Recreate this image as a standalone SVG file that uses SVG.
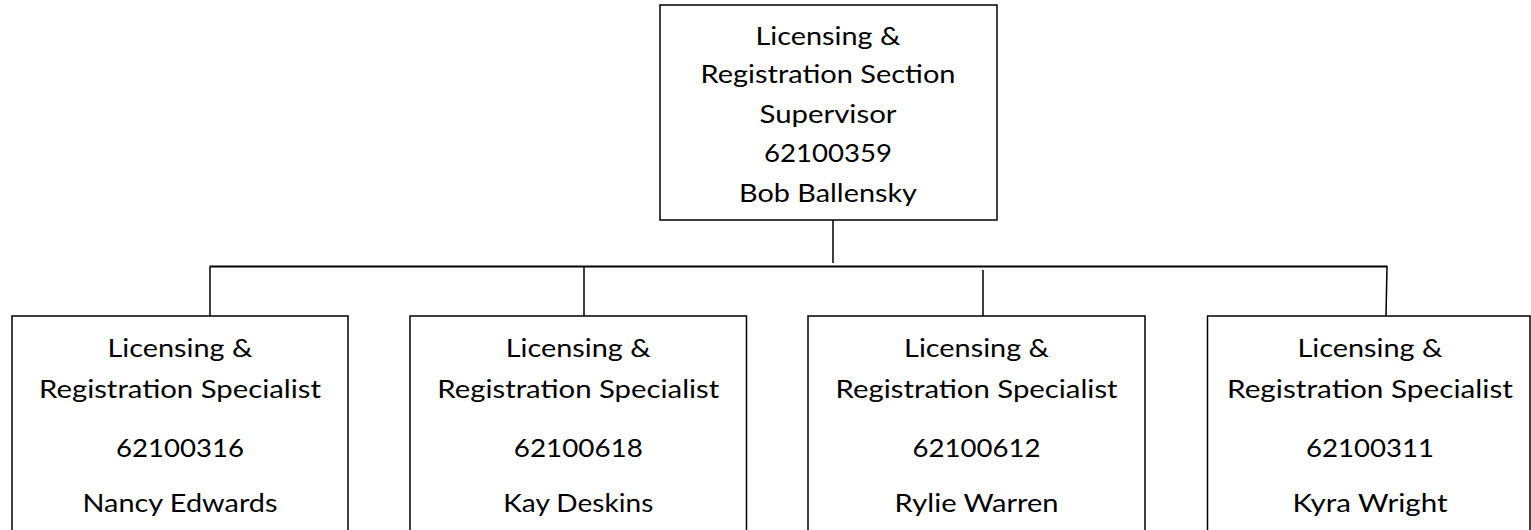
<svg xmlns="http://www.w3.org/2000/svg" width="1531" height="530" viewBox="0 0 1531 530">
<style>
.box{fill:#fff;stroke:#000;stroke-width:1.5}
.ln{stroke:#000;stroke-width:1.5;fill:none}
.hl{stroke:#000;stroke-width:2;fill:none}
text{font-family:Lato,"Open Sans","Liberation Sans",sans-serif;font-size:25px;fill:#000;text-anchor:middle}
</style>
<rect width="1531" height="530" fill="#fff"/>
<g id="connectors">
<line class="ln" x1="833" y1="220" x2="833" y2="263"/>
<line class="hl" x1="209.5" y1="266.5" x2="1387.5" y2="266.5"/>
<line class="ln" x1="210" y1="266.5" x2="210" y2="316"/>
<line class="ln" x1="584" y1="266.5" x2="584" y2="316"/>
<line class="ln" x1="983" y1="270" x2="983" y2="316"/>
<line class="ln" x1="1387" y1="266.5" x2="1386" y2="316"/>
</g>
<g id="supervisor">
<rect class="box" x="660" y="5" width="337" height="215"/>
<text x="828" y="45" textLength="145" lengthAdjust="spacingAndGlyphs">Licensing &amp;</text>
<text x="828" y="83" textLength="255" lengthAdjust="spacingAndGlyphs">Registration Section</text>
<text x="828" y="122.5" textLength="137" lengthAdjust="spacingAndGlyphs">Supervisor</text>
<text x="828" y="162" textLength="128" lengthAdjust="spacingAndGlyphs">62100359</text>
<text x="828" y="201.5" textLength="178" lengthAdjust="spacingAndGlyphs">Bob Ballensky</text>
</g>
<g id="specialist1">
<rect class="box" x="12" y="316" width="336" height="230"/>
<text x="180" y="357" textLength="145" lengthAdjust="spacingAndGlyphs">Licensing &amp;</text>
<text x="180" y="398" textLength="282" lengthAdjust="spacingAndGlyphs">Registration Specialist</text>
<text x="180" y="456.5" textLength="128" lengthAdjust="spacingAndGlyphs">62100316</text>
<text x="180" y="512" textLength="195" lengthAdjust="spacingAndGlyphs">Nancy Edwards</text>
</g>
<g id="specialist2">
<rect class="box" x="410" y="316" width="336.5" height="230"/>
<text x="578.3" y="357" textLength="145" lengthAdjust="spacingAndGlyphs">Licensing &amp;</text>
<text x="578.3" y="398" textLength="282" lengthAdjust="spacingAndGlyphs">Registration Specialist</text>
<text x="578.3" y="456.5" textLength="129" lengthAdjust="spacingAndGlyphs">62100618</text>
<text x="578.3" y="512" textLength="150" lengthAdjust="spacingAndGlyphs">Kay Deskins</text>
</g>
<g id="specialist3">
<rect class="box" x="808" y="316" width="337" height="230"/>
<text x="976.6" y="357" textLength="145" lengthAdjust="spacingAndGlyphs">Licensing &amp;</text>
<text x="976.6" y="398" textLength="282" lengthAdjust="spacingAndGlyphs">Registration Specialist</text>
<text x="976.6" y="456.5" textLength="128" lengthAdjust="spacingAndGlyphs">62100612</text>
<text x="976.6" y="512" textLength="164" lengthAdjust="spacingAndGlyphs">Rylie Warren</text>
</g>
<g id="specialist4">
<rect class="box" x="1207.5" y="316" width="322.5" height="230"/>
<text x="1370" y="357" textLength="145" lengthAdjust="spacingAndGlyphs">Licensing &amp;</text>
<text x="1370" y="398" textLength="286" lengthAdjust="spacingAndGlyphs">Registration Specialist</text>
<text x="1370" y="456.5" textLength="128" lengthAdjust="spacingAndGlyphs">62100311</text>
<text x="1370" y="512" textLength="155" lengthAdjust="spacingAndGlyphs">Kyra Wright</text>
</g>
</svg>
